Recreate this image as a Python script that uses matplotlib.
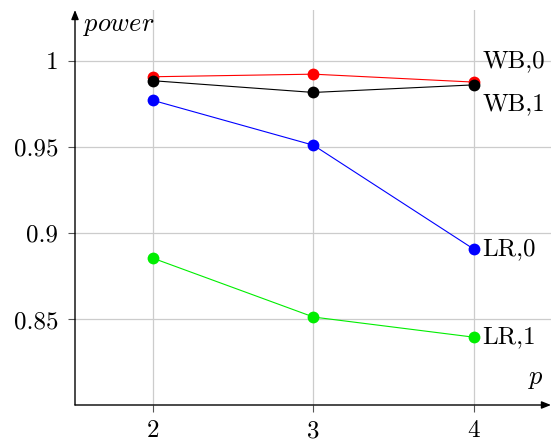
import matplotlib
matplotlib.use("Agg")
import matplotlib.pyplot as plt

plt.rcParams["font.family"] = "cmr10"
plt.rcParams["mathtext.fontset"] = "cm"
plt.rcParams["axes.unicode_minus"] = False

# power of the tests for each dimension p
p_values = [2, 3, 4]
wb0 = [0.9907, 0.9922, 0.9876]
wb1 = [0.9884, 0.9816, 0.9860]
lr0 = [0.9770, 0.9510, 0.8907]
lr1 = [0.8855, 0.8514, 0.8397]

series_names = ["WB,0", "WB,1", "LR,0", "LR,1"]
series_values = [wb0, wb1, lr0, lr1]
series_colors = ["#ff0000", "#000000", "#0000ff", "#00ee00"]
label_offsets = [(6, 15), (6, -14), (6, 0), (6, 0)]

x_ticks = [2, 3, 4]
x_tick_labels = ["2", "3", "4"]
y_ticks = [0.85, 0.9, 0.95, 1.0]
y_tick_labels = ["0.85", "0.9", "0.95", "1"]

FS = 18

fig = plt.figure(figsize=(5.53, 4.43), dpi=100)
ax = fig.add_axes([75 / 553, 38 / 443, 476 / 553, 395 / 443])

for name, vals, col, off in zip(series_names, series_values, series_colors, label_offsets):
    ax.plot(p_values, vals, color=col, lw=0.8, marker="o", markersize=8.5,
            markeredgewidth=0, zorder=3)
    ax.annotate(name, xy=(p_values[-1], vals[-1]), xytext=off,
                textcoords="offset points", ha="left", va="center",
                fontsize=FS, color="black")

ax.set_xlim(1.514, 4.48)
ax.set_ylim(0.8004, 1.0294)
ax.set_xticks(x_ticks)
ax.set_xticklabels(x_tick_labels, fontsize=FS)
ax.set_yticks(y_ticks)
ax.set_yticklabels(y_tick_labels, fontsize=FS)
ax.grid(True, color="#cccccc", lw=0.9)
ax.set_axisbelow(True)
ax.tick_params(direction="out", length=5, width=0.8, color="#555555")
ax.tick_params(axis="x", pad=6)
ax.tick_params(axis="y", pad=7)

for side in ["top", "right", "left", "bottom"]:
    ax.spines[side].set_visible(False)

# axis lines with arrow heads
arrow_style = dict(arrowstyle="-|>,head_length=0.55,head_width=0.22", lw=1.0,
                   color="black", shrinkA=0, shrinkB=0)
ax.annotate("", xy=(1, 0), xytext=(0, 0), xycoords="axes fraction",
            arrowprops=arrow_style, annotation_clip=False)
ax.annotate("", xy=(0, 1), xytext=(0, 0), xycoords="axes fraction",
            arrowprops=arrow_style, annotation_clip=False)

ax.text(0.017, 0.96, r"$power$", transform=ax.transAxes, fontsize=19,
        ha="left", va="center")
ax.text(0.985, 0.065, r"$p$", transform=ax.transAxes, fontsize=19,
        ha="right", va="center")

fig.savefig("out.png", dpi=100)
